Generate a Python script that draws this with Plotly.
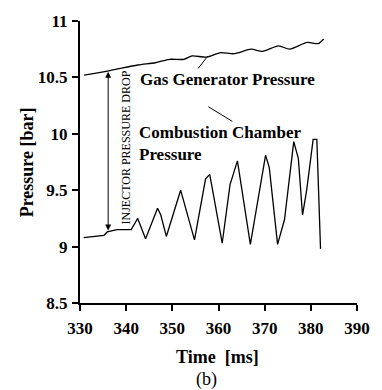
import plotly.graph_objects as go

# Combustion chamber pressure
cc_time = [330.8, 333.1, 335.2, 335.9, 338.0, 339.7, 341.1, 342.5, 344.2, 346.8, 347.5,
           348.7, 350.3, 351.8, 354.8, 357.2, 358.1, 360.8, 362.5, 364.1, 366.9,
           370.2, 371.0, 372.8, 374.3, 376.3, 377.3, 378.2, 379.1, 380.5, 381.3, 382.1]
cc_press = [9.08, 9.09, 9.10, 9.13, 9.15, 9.15, 9.15, 9.25, 9.07, 9.34, 9.28,
            9.09, 9.30, 9.50, 9.06, 9.60, 9.64, 9.03, 9.55, 9.76, 9.02,
            9.81, 9.70, 9.02, 9.24, 9.93, 9.78, 9.28, 9.50, 9.95, 9.95, 8.98]

# Gas generator pressure
gg_time = [330.9, 336.5, 342.5, 346.3, 349.4, 352.5, 354.3, 357.4, 360.5, 363.3,
           367.1, 369.5, 373.0, 375.4, 379.2, 381.6, 382.8]
gg_press = [10.52, 10.56, 10.61, 10.63, 10.66, 10.66, 10.69, 10.68, 10.72, 10.71,
            10.75, 10.73, 10.78, 10.75, 10.81, 10.80, 10.84]

x_ticks = [330, 340, 350, 360, 370, 380, 390]
y_ticks = [8.5, 9, 9.5, 10, 10.5, 11]

SERIF = "Liberation Serif"

fig = go.Figure()
fig.add_trace(go.Scatter(x=gg_time, y=gg_press, mode="lines",
                         line=dict(color="black", width=1.3, shape="spline", smoothing=0.7),
                         showlegend=False, hoverinfo="skip"))
fig.add_trace(go.Scatter(x=cc_time, y=cc_press, mode="lines",
                         line=dict(color="black", width=1.3),
                         showlegend=False, hoverinfo="skip"))

axis_common = dict(showgrid=False, zeroline=False, showline=True, linecolor="black",
                   linewidth=2, ticks="outside", ticklen=6, tickwidth=1.5, tickcolor="black",
                   tickfont=dict(family=SERIF, size=17, color="black", weight="bold"))
fig.update_xaxes(range=[330, 390], tickvals=x_ticks, ticklabelstandoff=3, **axis_common)
fig.update_yaxes(range=[8.5, 11], tickvals=y_ticks, ticklabelstandoff=1, **axis_common)

# double-headed arrow: injector pressure drop
fig.add_annotation(x=336.1, y=10.55, ax=336.1, ay=9.13, xref="x", yref="y",
                   axref="x", ayref="y", text="", showarrow=True,
                   arrowhead=2, startarrowhead=2, arrowside="end+start",
                   arrowsize=1.2, startarrowsize=1.2, arrowwidth=1, arrowcolor="black")
fig.add_annotation(x=340.0, y=9.88, xref="x", yref="y", text="INJECTOR PRESSURE DROP",
                   textangle=-90, showarrow=False, xanchor="center", yanchor="middle",
                   font=dict(family=SERIF, size=12, color="black"))

fig.add_annotation(x=342.5, y=10.48, xref="x", yref="y", text="Gas Generator Pressure",
                   xanchor="left", yanchor="middle", showarrow=False,
                   font=dict(family=SERIF, size=17, color="black", weight="bold"))
fig.add_annotation(x=342.3, y=9.91, xref="x", yref="y",
                   text="Combustion Chamber<br>Pressure", align="left",
                   xanchor="left", yanchor="middle", showarrow=False,
                   font=dict(family=SERIF, size=17, color="black", weight="bold"))

# leader lines
fig.add_shape(type="line", x0=357.7, y0=10.69, x1=355.6, y1=10.58, xref="x", yref="y",
              line=dict(color="black", width=1))
fig.add_shape(type="line", x0=357.8, y0=10.24, x1=363.0, y1=10.11, xref="x", yref="y",
              line=dict(color="black", width=1))

# axis titles
fig.add_annotation(x=-0.19, y=0.5, xref="paper", yref="paper", text="Pressure [bar]",
                   textangle=-90, showarrow=False, xanchor="center", yanchor="middle",
                   font=dict(family=SERIF, size=18, color="black", weight="bold"))
fig.add_annotation(x=0.498, y=-0.19, xref="paper", yref="paper", text="Time&nbsp; [ms]",
                   showarrow=False, xanchor="center", yanchor="middle",
                   font=dict(family=SERIF, size=18, color="black", weight="bold"))
fig.add_annotation(x=0.456, y=-0.27, xref="paper", yref="paper", text="(b)",
                   showarrow=False, xanchor="center", yanchor="middle",
                   font=dict(family=SERIF, size=18, color="black"))

fig.update_layout(width=382, height=390, margin=dict(l=80, r=13, t=15, b=87),
                  plot_bgcolor="white", paper_bgcolor="white")

fig.write_html("out.html")
